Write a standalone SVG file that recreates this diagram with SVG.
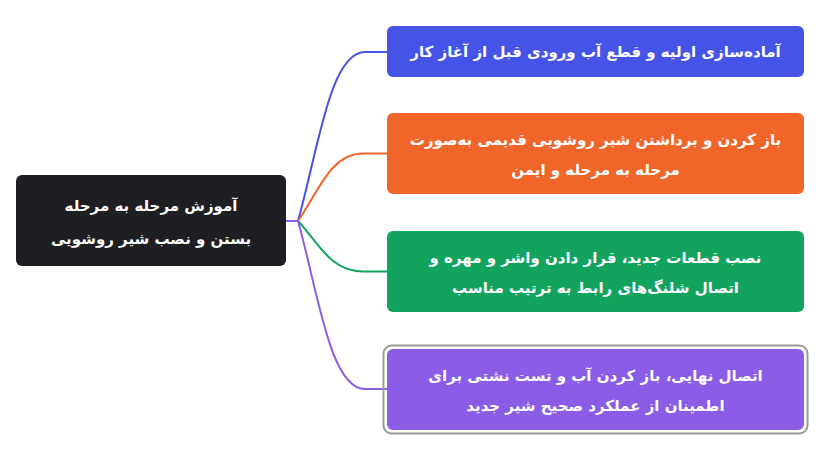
<svg xmlns="http://www.w3.org/2000/svg" width="820" height="475" viewBox="0 0 820 475">
<style>
.t{font-family:"DejaVu Sans","Noto Sans",sans-serif;font-weight:bold;font-size:15px;fill:#ffffff;text-anchor:middle;direction:rtl}
.c{fill:none;stroke-width:2;stroke-linecap:round}
</style>
<rect width="820" height="475" fill="#ffffff"/>
<g id="connectors">
<path class="c" stroke="#8b5ce6" d="M286,221 L298,221"/>
<path class="c" stroke="#4553e6" d="M298,221 C318,150 330,52 365,52 L387,52"/>
<path class="c" stroke="#f0662a" d="M298,221 C318,193 330,153.5 363,153.5 L387,153.5"/>
<path class="c" stroke="#12a35f" d="M298,221 C318,242 330,271.5 363,271.5 L387,271.5"/>
<path class="c" stroke="#8b5ce6" d="M298,221 C318,292 330,389 365,389 L387,389"/>
</g>
<g id="root">
<rect x="16" y="175" width="270" height="91" rx="6" fill="#1e1f23"/>
<text class="t" x="151" y="211" direction="rtl">آموزش مرحله به مرحله</text>
<text class="t" x="151" y="244" direction="rtl">بستن و نصب شیر روشویی</text>
</g>
<g id="n1">
<rect x="387" y="26" width="417" height="51" rx="6" fill="#4553e6"/>
<text class="t" x="595.5" y="57" direction="rtl">آماده&#8204;سازی اولیه و قطع آب ورودی قبل از آغاز کار</text>
</g>
<g id="n2">
<rect x="387" y="113" width="417" height="81" rx="6" fill="#f0662a"/>
<text class="t" x="595.5" y="145" direction="rtl">باز کردن و برداشتن شیر روشویی قدیمی به&#8204;صورت</text>
<text class="t" x="595.5" y="175" direction="rtl">مرحله به مرحله و ایمن</text>
</g>
<g id="n3">
<rect x="387" y="231" width="417" height="81" rx="6" fill="#12a35f"/>
<text class="t" x="595.5" y="263" direction="rtl">نصب قطعات جدید، قرار دادن واشر و مهره و</text>
<text class="t" x="595.5" y="293" direction="rtl">اتصال شلنگ&#8204;های رابط به ترتیب مناسب</text>
</g>
<g id="n4">
<rect x="383.5" y="345.5" width="424" height="88" rx="8" fill="none" stroke="#9a9a9a" stroke-width="2"/>
<rect x="387" y="349" width="417" height="81" rx="6" fill="#8b5ce6"/>
<text class="t" x="595.5" y="381" direction="rtl">اتصال نهایی، باز کردن آب و تست نشتی برای</text>
<text class="t" x="595.5" y="411" direction="rtl">اطمینان از عملکرد صحیح شیر جدید</text>
</g>
</svg>
